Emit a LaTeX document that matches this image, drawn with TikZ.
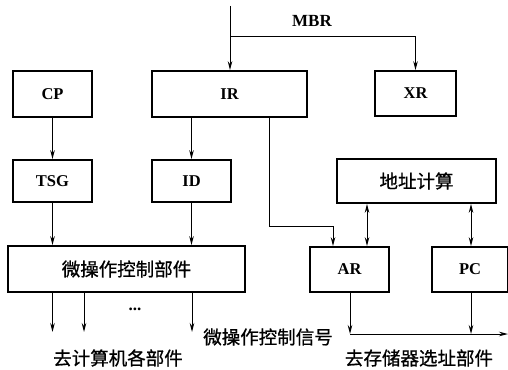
\documentclass[tikz,border=0pt]{standalone}
\usepackage{fontspec}
\setmainfont{Liberation Serif}
\newfontfamily\cjk[FakeBold=0.8]{Noto Sans CJK SC}
\usetikzlibrary{arrows.meta}
\begin{document}
\begin{tikzpicture}[x=1pt,y=-1pt,
  blk/.style={draw,line width=1.6pt,rectangle,inner sep=0pt,font=\fontsize{16.5}{20}\selectfont\bfseries},
  cjkfont/.style={font=\cjk\fontsize{18.5}{22}\selectfont},
  cn/.style={cjkfont},
  lat/.style={font=\fontsize{17}{20}\selectfont\bfseries},
  arr/.style={line width=1pt,-{Stealth[length=9pt,width=4.5pt]}},
  darr/.style={line width=1pt,{Stealth[length=9pt,width=4.5pt]}-{Stealth[length=9pt,width=4.5pt]}},
  ln/.style={line width=1pt}]
\useasboundingbox (0,0) rectangle (508,369);
% blocks
\node[blk,minimum width=79pt,minimum height=46pt] (CP) at (52.5,94) {CP};
\node[blk,minimum width=155pt,minimum height=46pt] (IR) at (229.5,94) {IR};
\node[blk,minimum width=81pt,minimum height=45pt] (XR) at (415.5,93.5) {XR};
\node[blk,minimum width=79pt,minimum height=42pt] (TSG) at (52.5,181) {TSG};
\node[blk,minimum width=79pt,minimum height=42pt] (ID) at (191.5,181) {ID};
\node[blk,cjkfont,minimum width=237pt,minimum height=46pt] (M) at (126.5,269) {微操作控制部件};
\node[blk,cjkfont,minimum width=159pt,minimum height=44pt] (DZ) at (416.5,181) {地址计算};
\node[blk,minimum width=79pt,minimum height=45pt] (AR) at (349.5,269.5) {AR};
\node[blk,minimum width=76pt,minimum height=45pt] (PC) at (470,269.5) {PC};
% labels
\node[lat] (mbr) at (312,21) {MBR};
\node[lat] (dots) at (135,309) {...};
\node[cn] (l1) at (118,358) {去计算机各部件};
\node[cn] (l2) at (268,337) {微操作控制信号};
\node[cn] (l3) at (419,358) {去存储器选址部件};
% coordinates
\coordinate (top) at (230,6);
\coordinate (br) at (230,37);
\coordinate (o1) at (52.5,332);
\coordinate (o2) at (84,332);
\coordinate (o3) at (192,332);
\coordinate (irx) at (269,226);
\coordinate (arx) at (333,226);
\coordinate (d1) at (367,0);
\coordinate (d2) at (471,0);
\coordinate (c1) at (350,334);
\coordinate (c2) at (471,334);
\coordinate (cend) at (508,334);
% connectors
\draw[arr] (top) -- (top |- IR.north);
\draw[arr] (br) -- (br -| XR.north) -- (XR.north);
\draw[arr] (CP.south) -- (TSG.north);
\draw[arr] (ID.north |- IR.south) -- (ID.north);
\draw[arr] (TSG.south) -- (TSG.south |- M.north);
\draw[arr] (ID.south) -- (ID.south |- M.north);
\draw[arr] (o1 |- M.south) -- (o1);
\draw[arr] (o2 |- M.south) -- (o2);
\draw[arr] (o3 |- M.south) -- (o3);
\draw[arr] (irx |- IR.south) -- (irx) -- (arx) -- (arx |- AR.north);
\draw[darr] (d1 |- DZ.south) -- (d1 |- AR.north);
\draw[darr] (d2 |- DZ.south) -- (d2 |- PC.north);
\draw[arr] (c1 |- AR.south) -- (c1);
\draw[arr] (c2 |- PC.south) -- (c2);
\draw[arr] (c1) -- (cend);
\end{tikzpicture}
\end{document}
